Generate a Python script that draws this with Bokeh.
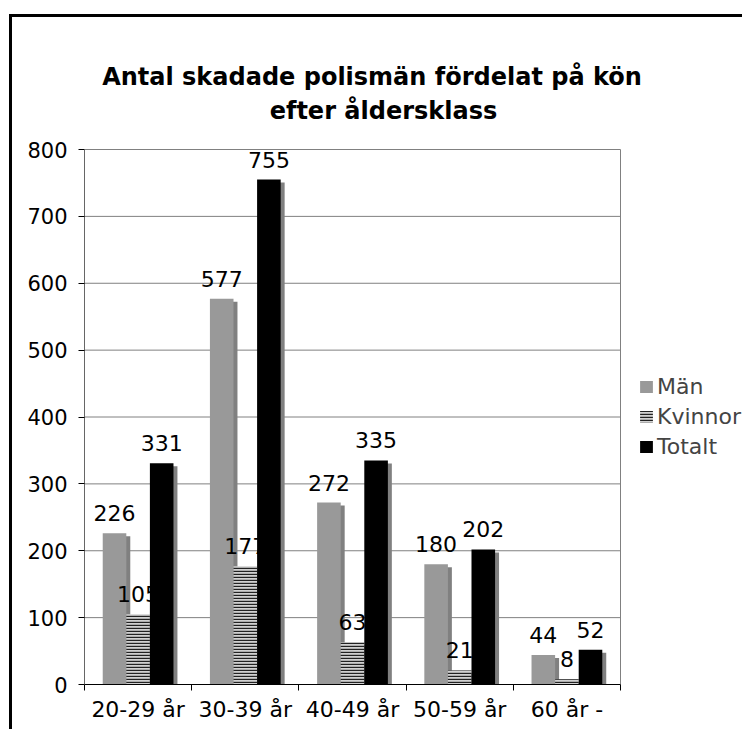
from bokeh.plotting import figure
from bokeh.models import FixedTicker, Range1d, Label, Legend, LegendItem, ColumnDataSource
from bokeh.core.properties import value
from bokeh.embed import file_html
from bokeh.resources import INLINE

# ---- data ----
categories = ["20-29 år", "30-39 år", "40-49 år", "50-59 år", "60 år -"]
man = [226, 577, 272, 180, 44]
kvinnor = [105, 177, 63, 21, 8]
totalt = [331, 755, 335, 202, 52]
series_names = ["Män", "Kvinnor", "Totalt"]
y_ticks = [0, 100, 200, 300, 400, 500, 600, 700, 800]
title_lines = ["Antal skadade polismän fördelat på kön", "efter åldersklass"]

FONT = "DejaVu Sans"
BAR_W = 0.22
SH_DX = 0.037   # shadow shift (about 4px)
SH_DY = 4.5     # shadow drop (about 3px)
N = len(categories)
X_MAX = 6.166   # extra room right of the plot area for the legend
Y_MAX = 997.4   # extra room above the plot area for the title

p = figure(width=733, height=715, x_range=Range1d(0, X_MAX), y_range=Range1d(0, Y_MAX),
           output_backend="svg", toolbar_location=None, title=None,
           min_border_left=72, min_border_right=0, min_border_top=0, min_border_bottom=48)
p.styles = {"border-left": "3px solid black", "border-top": "3px solid black",
            "margin-top": "14px", "margin-left": "9px"}
p.background_fill_color = "white"
p.border_fill_color = "white"
p.outline_line_color = None
p.xgrid.grid_line_color = None
p.ygrid.grid_line_color = None

# grid lines and right edge of the plot area, limited to the category span
p.segment(x0=0, x1=N, y0=y_ticks[1:], y1=y_ticks[1:], line_color="#808080", line_width=1)
p.segment(x0=N, x1=N, y0=0, y1=y_ticks[-1], line_color="#808080", line_width=1)

centers = [i + 0.5 for i in range(N)]
offsets = [-BAR_W, 0.0, BAR_W]
styles = [
    dict(fill_color="#999999", line_color=None),
    dict(fill_color="#d0d0d0", line_color=None, hatch_pattern="horizontal_line",
         hatch_color="#222222", hatch_scale=3, hatch_weight=1.4),
    dict(fill_color="black", line_color=None),
]
renderers = []
for vals, off, st in zip([man, kvinnor, totalt], offsets, styles):
    xs = [c + off for c in centers]
    src = ColumnDataSource(dict(x=xs, xs=[x + SH_DX for x in xs], top=vals,
                                stop=[max(v - SH_DY, 0) for v in vals],
                                lab=[str(v) for v in vals]))
    p.vbar(x="xs", top="stop", bottom=0, width=BAR_W, source=src,
           fill_color="#808080", line_color=None)
    r = p.vbar(x="x", top="top", bottom=0, width=BAR_W, source=src, **st)
    renderers.append(r)
    p.text(x="x", y="top", text="lab", source=src, text_align="center",
           text_baseline="alphabetic", y_offset=-20, text_font=value(FONT),
           text_font_size="22px", text_color="black")

# axes
p.yaxis.bounds = (0, y_ticks[-1])
p.yaxis.ticker = FixedTicker(ticks=y_ticks)
p.yaxis.axis_line_color = "#666666"
p.yaxis.major_tick_line_color = "black"
p.yaxis.major_tick_out = 6
p.yaxis.major_tick_in = 0
p.yaxis.minor_tick_line_color = None
p.yaxis.major_label_standoff = 11
p.yaxis.major_label_text_font = FONT
p.yaxis.major_label_text_font_size = "21px"
p.yaxis.major_label_text_color = "black"

p.xaxis.bounds = (0, N)
p.xaxis.ticker = FixedTicker(ticks=centers, minor_ticks=list(range(N + 1)))
p.xaxis.major_label_overrides = {c: lab for c, lab in zip(centers, categories)}
p.xaxis.major_tick_out = 0
p.xaxis.major_tick_in = 0
p.xaxis.minor_tick_out = 6
p.xaxis.minor_tick_in = 0
p.xaxis.minor_tick_line_color = "black"
p.xaxis.axis_line_color = "black"
p.xaxis.major_label_standoff = 6
p.xaxis.major_label_text_font = FONT
p.xaxis.major_label_text_font_size = "22px"
p.xaxis.major_label_text_color = "black"

# legend
legend = Legend(items=[LegendItem(label=n, renderers=[r]) for n, r in zip(series_names, renderers)],
                location=(554, 224), orientation="vertical", padding=0, margin=0, spacing=3,
                glyph_width=16, glyph_height=15, label_height=27, label_standoff=3,
                label_text_font=FONT, label_text_font_size="22px",
                border_line_color=None, background_fill_alpha=0)
p.add_layout(legend)

# title, two centred lines above the plot area
for txt, xx, yy in zip(title_lines, [2.682, 2.789], [909, 858]):
    p.add_layout(Label(x=xx, y=yy, text=txt, text_align="center", text_baseline="middle",
                       text_font=FONT, text_font_style="bold", text_font_size="24px",
                       text_color="black"))

open("out.html", "w").write(file_html(p, INLINE))
